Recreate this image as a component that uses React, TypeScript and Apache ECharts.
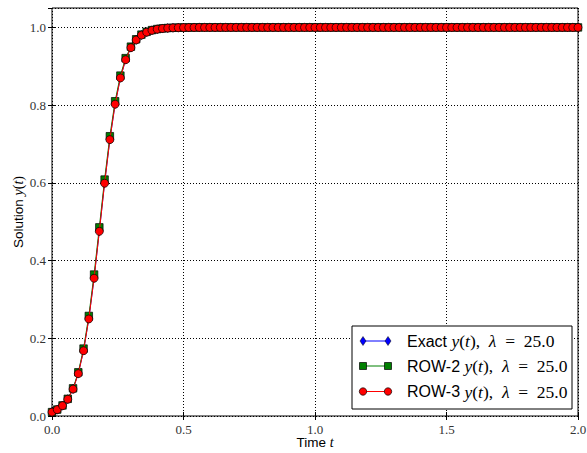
import React, { useEffect, useRef } from "react";
import * as echarts from "echarts";

const times = [
  0.0, 0.02, 0.04, 0.06, 0.08, 0.1, 0.12, 0.14, 0.16, 0.18,
  0.2, 0.22, 0.24, 0.26, 0.28, 0.3, 0.32, 0.34, 0.36, 0.38,
  0.4, 0.42, 0.44, 0.46, 0.48, 0.5, 0.52, 0.54, 0.56, 0.58,
  0.6, 0.62, 0.64, 0.66, 0.68, 0.7, 0.72, 0.74, 0.76, 0.78,
  0.8, 0.82, 0.84, 0.86, 0.88, 0.9, 0.92, 0.94, 0.96, 0.98,
  1.0, 1.02, 1.04, 1.06, 1.08, 1.1, 1.12, 1.14, 1.16, 1.18,
  1.2, 1.22, 1.24, 1.26, 1.28, 1.3, 1.32, 1.34, 1.36, 1.38,
  1.4, 1.42, 1.44, 1.46, 1.48, 1.5, 1.52, 1.54, 1.56, 1.58,
  1.6, 1.62, 1.64, 1.66, 1.68, 1.7, 1.72, 1.74, 1.76, 1.78,
  1.8, 1.82, 1.84, 1.86, 1.88, 1.9, 1.92, 1.94, 1.96, 1.98,
  2.0,
];

const exactY = [
  0.01, 0.0164, 0.0267, 0.0433, 0.0695, 0.1096, 0.1687, 0.2507, 0.3554, 0.4762,
  0.5999, 0.712, 0.803, 0.8704, 0.9172, 0.9481, 0.9679, 0.9803, 0.9879, 0.9926,
  0.9955, 0.9973, 0.9983, 0.999, 0.9994, 0.9996, 0.9998, 0.9999, 1.0, 1.0,
  1.0, 1.0, 1.0, 1.0, 1.0, 1.0, 1.0, 1.0, 1.0, 1.0,
  1.0, 1.0, 1.0, 1.0, 1.0, 1.0, 1.0, 1.0, 1.0, 1.0,
  1.0, 1.0, 1.0, 1.0, 1.0, 1.0, 1.0, 1.0, 1.0, 1.0,
  1.0, 1.0, 1.0, 1.0, 1.0, 1.0, 1.0, 1.0, 1.0, 1.0,
  1.0, 1.0, 1.0, 1.0, 1.0, 1.0, 1.0, 1.0, 1.0, 1.0,
  1.0, 1.0, 1.0, 1.0, 1.0, 1.0, 1.0, 1.0, 1.0, 1.0,
  1.0, 1.0, 1.0, 1.0, 1.0, 1.0, 1.0, 1.0, 1.0, 1.0,
  1.0,
];

const row2Y = [
  0.01, 0.0166, 0.0272, 0.0442, 0.0712, 0.1125, 0.1735, 0.2575, 0.364, 0.4855,
  0.6085, 0.72, 0.81, 0.876, 0.921, 0.9505, 0.9695, 0.9815, 0.9887, 0.9931,
  0.9958, 0.9975, 0.9985, 0.9991, 0.9995, 0.9997, 0.9998, 0.9999, 1.0, 1.0,
  1.0, 1.0, 1.0, 1.0, 1.0, 1.0, 1.0, 1.0, 1.0, 1.0,
  1.0, 1.0, 1.0, 1.0, 1.0, 1.0, 1.0, 1.0, 1.0, 1.0,
  1.0, 1.0, 1.0, 1.0, 1.0, 1.0, 1.0, 1.0, 1.0, 1.0,
  1.0, 1.0, 1.0, 1.0, 1.0, 1.0, 1.0, 1.0, 1.0, 1.0,
  1.0, 1.0, 1.0, 1.0, 1.0, 1.0, 1.0, 1.0, 1.0, 1.0,
  1.0, 1.0, 1.0, 1.0, 1.0, 1.0, 1.0, 1.0, 1.0, 1.0,
  1.0, 1.0, 1.0, 1.0, 1.0, 1.0, 1.0, 1.0, 1.0, 1.0,
  1.0,
];

const row3Y = [
  0.01, 0.0164, 0.0266, 0.0431, 0.0692, 0.109, 0.168, 0.2498, 0.3545, 0.4752,
  0.599, 0.7112, 0.8024, 0.87, 0.9169, 0.9479, 0.9678, 0.9802, 0.9878, 0.9925,
  0.9954, 0.9972, 0.9983, 0.999, 0.9994, 0.9996, 0.9998, 0.9999, 1.0, 1.0,
  1.0, 1.0, 1.0, 1.0, 1.0, 1.0, 1.0, 1.0, 1.0, 1.0,
  1.0, 1.0, 1.0, 1.0, 1.0, 1.0, 1.0, 1.0, 1.0, 1.0,
  1.0, 1.0, 1.0, 1.0, 1.0, 1.0, 1.0, 1.0, 1.0, 1.0,
  1.0, 1.0, 1.0, 1.0, 1.0, 1.0, 1.0, 1.0, 1.0, 1.0,
  1.0, 1.0, 1.0, 1.0, 1.0, 1.0, 1.0, 1.0, 1.0, 1.0,
  1.0, 1.0, 1.0, 1.0, 1.0, 1.0, 1.0, 1.0, 1.0, 1.0,
  1.0, 1.0, 1.0, 1.0, 1.0, 1.0, 1.0, 1.0, 1.0, 1.0,
  1.0,
];

const legendLabels = ["Exact", "ROW-2", "ROW-3"];
const lambdaText = "25.0";

const SERIF = "Liberation Serif";
const SANS = "Liberation Sans";

const richStyles = (size: number, mathSize: number) => ({
  s: { fontFamily: SANS, fontSize: size, color: "#000" },
  i: { fontFamily: SERIF, fontSize: mathSize, fontStyle: "italic", color: "#000" },
  r: { fontFamily: SERIF, fontSize: mathSize, color: "#000" },
});

const mathLabel = (word: string) =>
  `{s|${word} }{i|y}{r|(}{i|t}{r|),  }{i|λ}{r|  =  ${lambdaText}}`;

export default function App() {
  const ref = useRef<HTMLDivElement>(null);

  useEffect(() => {
    if (!ref.current) return;
    const chart = echarts.init(ref.current, undefined, { renderer: "svg" });

    const pairs = (ys: number[]) => times.map((t, i) => [t, ys[i]]);
    const tickLabel = {
      fontFamily: SERIF,
      fontSize: 13,
      color: "#333",
    };
    const dotted = { color: "#000", type: [1, 2] as any, width: 1 };

    const legX = 352;
    const legY = 326;
    const rowYs = [341, 366, 391.5];
    const lineX0 = 363;
    const lineX1 = 388;
    const textX = 407;

    const graphics: any[] = [
      {
        type: "text",
        x: 315,
        y: 442,
        style: {
          text: "{s|Time }{i|t}",
          rich: richStyles(13.5, 14),
          align: "center",
          verticalAlign: "middle",
        },
        z: 50,
      },
      {
        type: "rect",
        shape: { x: legX, y: legY, width: 220, height: 83 },
        style: { fill: "#fff", stroke: "#000", lineWidth: 1 },
        z: 100,
      },
    ];
    const colors = ["#0000ff", "#008000", "#ff0000"];
    legendLabels.forEach((lab, k) => {
      const y = rowYs[k];
      graphics.push({
        type: "line",
        shape: { x1: lineX0, y1: y, x2: lineX1, y2: y },
        style: { stroke: colors[k], lineWidth: 1 },
        z: 101,
      });
      [lineX0, lineX1].forEach((cx) => {
        if (k === 0) {
          graphics.push({
            type: "polygon",
            shape: {
              points: [
                [cx, y - 4.5],
                [cx + 3, y],
                [cx, y + 4.5],
                [cx - 3, y],
              ],
            },
            style: { fill: colors[k], stroke: "#000", lineWidth: 0.5 },
            z: 102,
          });
        } else if (k === 1) {
          graphics.push({
            type: "rect",
            shape: { x: cx - 3.5, y: y - 3.5, width: 7, height: 7 },
            style: { fill: colors[k], stroke: "#000", lineWidth: 0.7 },
            z: 102,
          });
        } else {
          graphics.push({
            type: "circle",
            shape: { cx, cy: y, r: 3.7 },
            style: { fill: colors[k], stroke: "#000", lineWidth: 0.7 },
            z: 102,
          });
        }
      });
      graphics.push({
        type: "text",
        x: textX,
        y: y,
        style: {
          text: mathLabel(lab),
          rich: richStyles(16, 17.5),
          verticalAlign: "middle",
          align: "left",
        },
        z: 102,
      });
    });

    chart.setOption({
      animation: false,
      backgroundColor: "#fff",
      grid: {
        left: 52,
        right: 9,
        top: 8,
        bottom: 37,
        show: true,
        borderColor: "#000",
        borderWidth: 1,
        backgroundColor: "transparent",
        containLabel: false,
        outerBoundsMode: "none",
      },
      xAxis: [
        {
          type: "value",
          min: 0,
          max: 2,
          interval: 0.5,
          position: "bottom",
          axisLine: { show: false },
          axisTick: { show: true, inside: true, length: 4, lineStyle: { color: "#000" } },
          axisLabel: { ...tickLabel, margin: 7, formatter: (v: number) => v.toFixed(1) },
          splitLine: { show: true, lineStyle: dotted },
        },
        {
          type: "value",
          min: 0,
          max: 2,
          interval: 0.5,
          position: "top",
          axisLine: { show: false },
          axisTick: { show: true, inside: true, length: 4, lineStyle: { color: "#000" } },
          axisLabel: { show: false },
          splitLine: { show: false },
        },
      ],
      yAxis: [
        {
          type: "value",
          min: 0,
          max: 1.05,
          interval: 0.2,
          position: "left",
          axisLine: { show: false },
          axisTick: { show: true, inside: true, length: 4, lineStyle: { color: "#000" } },
          axisLabel: {
            ...tickLabel,
            margin: 6,
            showMaxLabel: false,
            formatter: (v: number) => (v > 1.01 ? "" : v.toFixed(1)),
          },
          splitLine: { show: true, lineStyle: dotted },
          name: "{s|Solution }{i|y}{r|(}{i|t}{r|)}",
          nameLocation: "middle",
          nameGap: 27,
          nameRotate: 90,
          nameMoveOverlap: false,
          nameTextStyle: { rich: richStyles(13.5, 14) },
        },
        {
          type: "value",
          min: 0,
          max: 1.05,
          interval: 0.2,
          position: "right",
          axisLine: { show: false },
          axisTick: { show: true, inside: true, length: 4, lineStyle: { color: "#000" } },
          axisLabel: { show: false },
          splitLine: { show: false },
        },
      ],
      series: [
        {
          type: "line",
          name: "Exact",
          data: pairs(exactY),
          symbol: "diamond",
          symbolSize: [6, 9],
          showAllSymbol: true,
          lineStyle: { color: "#0000ff", width: 1 },
          itemStyle: { color: "#0000ff", borderColor: "#000", borderWidth: 0.5 },
          z: 3,
        },
        {
          type: "line",
          name: "ROW-2",
          data: pairs(row2Y),
          symbol: "rect",
          symbolSize: 7.5,
          showAllSymbol: true,
          lineStyle: { color: "#008000", width: 1 },
          itemStyle: { color: "#008000", borderColor: "#000", borderWidth: 0.7 },
          z: 4,
        },
        {
          type: "line",
          name: "ROW-3",
          data: pairs(row3Y),
          symbol: "circle",
          symbolSize: 8,
          showAllSymbol: true,
          lineStyle: { color: "#ff0000", width: 1 },
          itemStyle: { color: "#ff0000", borderColor: "#000", borderWidth: 0.7 },
          z: 5,
        },
      ],
      graphic: graphics,
    });

    return () => chart.dispose();
  }, []);

  return (
    <div
      ref={ref}
      style={{ position: "fixed", left: 0, top: 0, width: 587, height: 453 }}
    />
  );
}
